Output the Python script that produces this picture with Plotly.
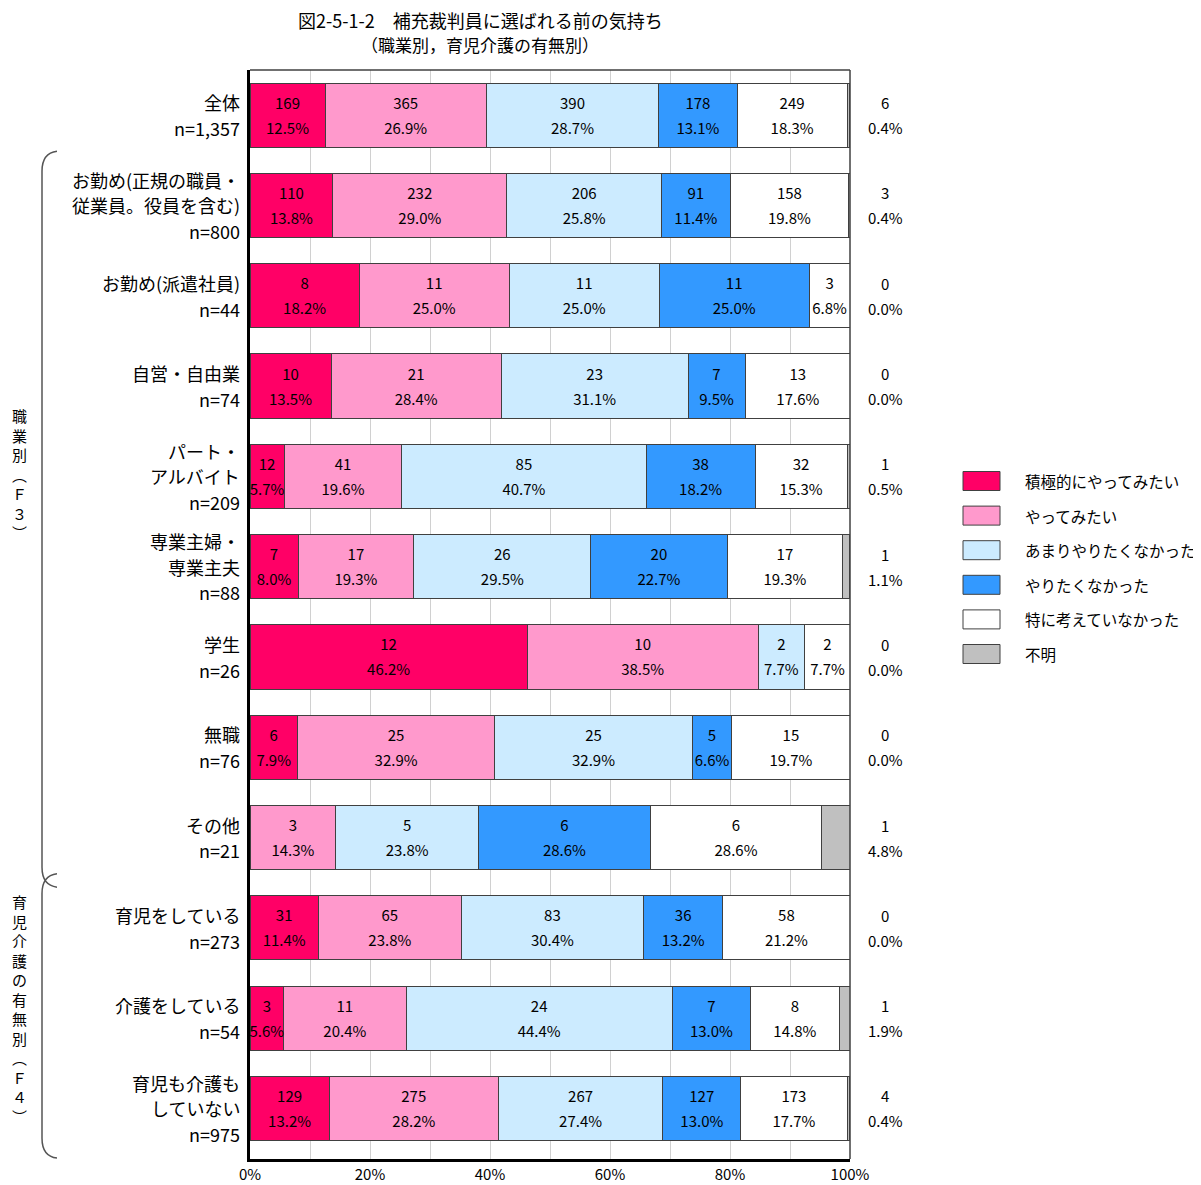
import plotly.graph_objects as go

FONT = "Noto Sans CJK JP"

# ---------------- data ----------------
categories = ["全体", "お勤め(正規の職員・<br>従業員。役員を含む)", "お勤め(派遣社員)", "自営・自由業",
              "パート・<br>アルバイト", "専業主婦・<br>専業主夫", "学生", "無職", "その他",
              "育児をしている", "介護をしている", "育児も介護も<br>していない"]
n_labels = ["n=1,357", "n=800", "n=44", "n=74", "n=209", "n=88", "n=26", "n=76", "n=21",
            "n=273", "n=54", "n=975"]

series_names = ["積極的にやってみたい", "やってみたい", "あまりやりたくなかった",
                "やりたくなかった", "特に考えていなかった", "不明"]
series_colors = ["#FF0066", "#FF99CC", "#CCEBFF", "#3399FF", "#FFFFFF", "#C0C0C0"]

cnt_sekkyoku = [169, 110, 8, 10, 12, 7, 12, 6, 0, 31, 3, 129]
pct_sekkyoku = [12.5, 13.8, 18.2, 13.5, 5.7, 8.0, 46.2, 7.9, 0.0, 11.4, 5.6, 13.2]
cnt_yatte = [365, 232, 11, 21, 41, 17, 10, 25, 3, 65, 11, 275]
pct_yatte = [26.9, 29.0, 25.0, 28.4, 19.6, 19.3, 38.5, 32.9, 14.3, 23.8, 20.4, 28.2]
cnt_amari = [390, 206, 11, 23, 85, 26, 2, 25, 5, 83, 24, 267]
pct_amari = [28.7, 25.8, 25.0, 31.1, 40.7, 29.5, 7.7, 32.9, 23.8, 30.4, 44.4, 27.4]
cnt_yaritaku = [178, 91, 11, 7, 38, 20, 0, 5, 6, 36, 7, 127]
pct_yaritaku = [13.1, 11.4, 25.0, 9.5, 18.2, 22.7, 0.0, 6.6, 28.6, 13.2, 13.0, 13.0]
cnt_toku = [249, 158, 3, 13, 32, 17, 2, 15, 6, 58, 8, 173]
pct_toku = [18.3, 19.8, 6.8, 17.6, 15.3, 19.3, 7.7, 19.7, 28.6, 21.2, 14.8, 17.7]
cnt_fumei = [6, 3, 0, 0, 1, 1, 0, 0, 1, 0, 1, 4]
pct_fumei = [0.4, 0.4, 0.0, 0.0, 0.5, 1.1, 0.0, 0.0, 4.8, 0.0, 1.9, 0.4]

x_tick_vals = [0, 10, 20, 30, 40, 50, 60, 70, 80, 90, 100]
x_tick_text = ["0%", "", "20%", "", "40%", "", "60%", "", "80%", "", "100%"]

group_titles = ["職<br>業<br>別<br>︵<br>Ｆ<br>３<br>︶",
                "育<br>児<br>介<br>護<br>の<br>有<br>無<br>別<br>︵<br>Ｆ<br>４<br>︶"]
group_rows = [(1, 8), (9, 11)]
group_title_rows = [3.97, 9.9]

title_line1 = "図2-5-1-2　補充裁判員に選ばれる前の気持ち"
title_line2 = "（職業別，育児介護の有無別）"

counts = [cnt_sekkyoku, cnt_yatte, cnt_amari, cnt_yaritaku, cnt_toku, cnt_fumei]
pcts = [pct_sekkyoku, pct_yatte, pct_amari, pct_yaritaku, pct_toku, pct_fumei]

# ---------------- layout geometry (page pixels; page body has an 8px margin) ----------------
OFF = 8
FW, FH = 1201 - OFF, 1185 - OFF
L, R, T, B = 250, 850, 70, 1159          # plot area in page pixels
rows = list(range(len(categories)))


def px2x(px):
    return (px - L) / (R - L)


def py2y(py):
    return (B - py) / (B - T)


fig = go.Figure()

for name, color, pv in zip(series_names, series_colors, pcts):
    fig.add_trace(go.Bar(
        y=rows, x=pv, orientation="h", name=name, width=0.71,
        marker=dict(color=color, line=dict(color="#404040", width=1)),
        hoverinfo="skip", showlegend=False,
    ))

# in-bar labels (all series except 不明)
cx, cy_c, cy_p, tc, tp = [], [], [], [], []
for r in rows:
    cum = 0.0
    for s in range(5):
        p = pcts[s][r]
        if counts[s][r] > 0:
            cx.append(cum + p / 2)
            cy_c.append(r - 0.113)
            cy_p.append(r + 0.163)
            tc.append(str(counts[s][r]))
            tp.append(f"{p:.1f}%")
        cum += p

fig.add_trace(go.Scatter(x=cx, y=cy_c, mode="text", text=tc, textposition="middle center",
                         textfont=dict(size=15, color="black", family=FONT),
                         cliponaxis=False, showlegend=False, hoverinfo="skip"))
fig.add_trace(go.Scatter(x=cx, y=cy_p, mode="text", text=tp, textposition="middle center",
                         textfont=dict(size=15, color="black", family=FONT),
                         cliponaxis=False, showlegend=False, hoverinfo="skip"))

annotations = []
LINE = 25.5
# 不明 labels outside on the right
for r in rows:
    annotations.append(dict(xref="paper", yref="y", x=px2x(885), y=r, yshift=12.5,
                            text=str(cnt_fumei[r]), showarrow=False, xanchor="center",
                            yanchor="middle", font=dict(size=15, color="black", family=FONT)))
    annotations.append(dict(xref="paper", yref="y", x=px2x(885), y=r, yshift=-12.5,
                            text=f"{pct_fumei[r]:.1f}%", showarrow=False, xanchor="center",
                            yanchor="middle", font=dict(size=15, color="black", family=FONT)))

# category labels, one annotation per line
for r in rows:
    lines = categories[r].split("<br>") + [n_labels[r]]
    k = len(lines)
    for i, ln in enumerate(lines):
        annotations.append(dict(
            xref="paper", yref="y", x=px2x(242), y=r, yshift=-(i - (k - 1) / 2) * LINE,
            xanchor="right", yanchor="middle", text=ln, showarrow=False,
            font=dict(size=18, color="black", family=FONT)))

# title
annotations.append(dict(xref="paper", yref="paper", x=px2x(480), y=py2y(20), text=title_line1,
                        showarrow=False, xanchor="center", yanchor="middle",
                        font=dict(size=18, color="black", family=FONT)))
annotations.append(dict(xref="paper", yref="paper", x=px2x(480), y=py2y(45), text=title_line2,
                        showarrow=False, xanchor="center", yanchor="middle",
                        font=dict(size=17, color="black", family=FONT)))

shapes = []
# group brackets & vertical titles
for (r0, r1), gt, gy in zip(group_rows, group_titles, group_title_rows):
    ytop = r0 - 0.6
    ybot = r1 + 0.55
    xa = px2x(57)
    xb = px2x(42)
    dy = 0.22
    path = (f"M {xa},{ytop} Q {xb},{ytop + 0.02} {xb},{ytop + dy} "
            f"L {xb},{ybot - dy} Q {xb},{ybot - 0.02} {xa},{ybot}")
    shapes.append(dict(type="path", xref="paper", yref="y", path=path,
                       line=dict(color="#555555", width=1.5)))
    annotations.append(dict(xref="paper", yref="y", x=px2x(20), y=gy,
                            text=gt, showarrow=False, xanchor="center", yanchor="middle",
                            align="center", font=dict(size=15, color="black", family=FONT)))

# top and right frame lines
shapes.append(dict(type="line", xref="paper", yref="paper", x0=0, x1=1, y0=1, y1=1,
                   line=dict(color="#404040", width=1.5)))
shapes.append(dict(type="line", xref="paper", yref="paper", x0=1, x1=1, y0=0, y1=1,
                   line=dict(color="#404040", width=1.5)))

# manual legend
for i, (name, color) in enumerate(zip(series_names, series_colors)):
    yc = 481 + i * 34.6
    shapes.append(dict(type="rect", xref="paper", yref="paper",
                       x0=px2x(963), x1=px2x(1000), y0=py2y(yc - 9.5), y1=py2y(yc + 9.5),
                       fillcolor=color, line=dict(color="#404040", width=1)))
    annotations.append(dict(xref="paper", yref="paper", x=px2x(1023), y=py2y(yc), text=name,
                            showarrow=False, xanchor="left", yanchor="middle",
                            font=dict(size=15.5, color="black", family=FONT)))

fig.update_layout(
    width=FW, height=FH,
    margin=dict(l=L - OFF, r=FW - (R - OFF), t=T - OFF, b=FH - (B - OFF), autoexpand=False),
    barmode="stack",
    plot_bgcolor="white", paper_bgcolor="white",
    font=dict(family=FONT, color="black"),
    xaxis=dict(range=[0, 100], tickvals=x_tick_vals, ticktext=x_tick_text,
               showgrid=True, gridcolor="#D0D0D0", gridwidth=1, zeroline=False,
               showline=True, linecolor="black", linewidth=2.5, ticks="",
               ticklabelstandoff=0, automargin=False,
               tickfont=dict(size=15, family=FONT, color="black"), fixedrange=True),
    yaxis=dict(range=[11.56, -0.5], showticklabels=False, showgrid=False, zeroline=False,
               showline=True, linecolor="black", linewidth=2.5, ticks="", fixedrange=True,
               automargin=False),
    annotations=annotations,
    shapes=shapes,
    showlegend=False,
)

fig.write_html("out.html")
